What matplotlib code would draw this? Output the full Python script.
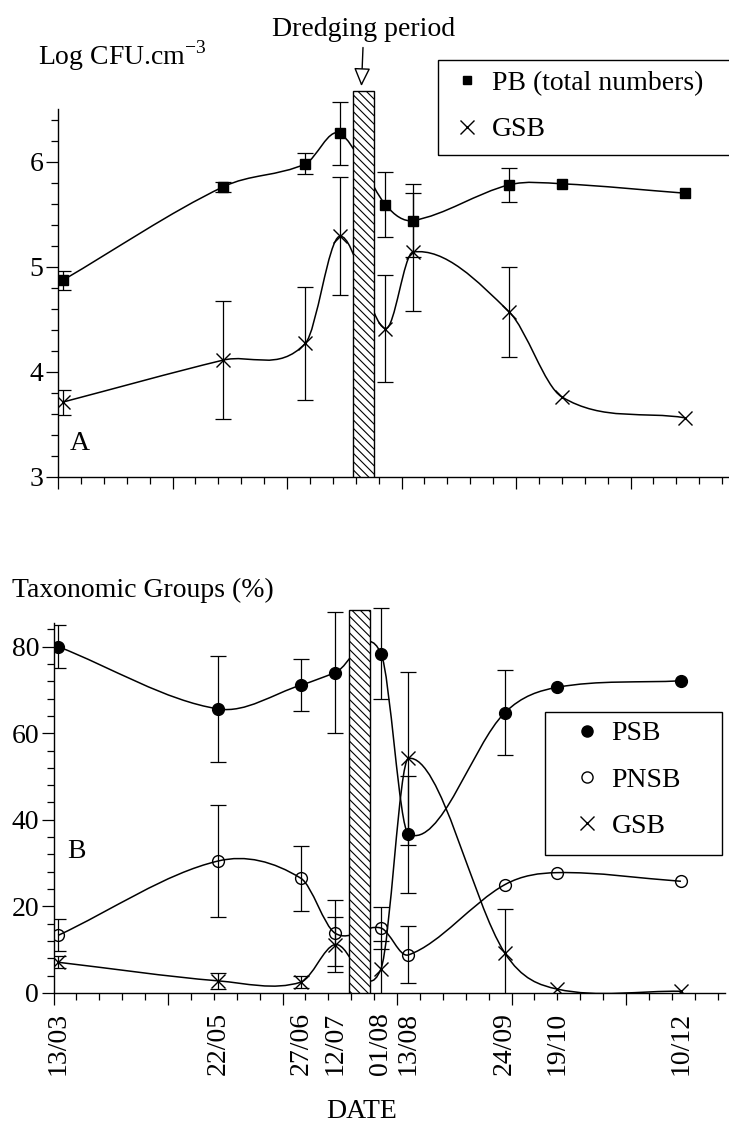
import numpy as np
import matplotlib
matplotlib.use('Agg')
from matplotlib import pyplot as plt
from matplotlib.path import Path
from matplotlib.patches import PathPatch, Rectangle
from matplotlib.lines import Line2D
from matplotlib.ticker import FixedLocator, NullFormatter

plt.rcParams['font.family'] = ['Liberation Serif', 'DejaVu Serif']
plt.rcParams['mathtext.fontset'] = 'custom'
plt.rcParams['mathtext.rm'] = 'Liberation Serif'
plt.rcParams['hatch.linewidth'] = 0.8

# sampling dates (day of year) and their labels
date_labels = ['13/03', '22/05', '27/06', '12/07', '01/08', '13/08', '24/09', '19/10', '10/12']
days = np.array([72, 142, 178, 193, 213, 225, 267, 290, 344])

# panel A : log CFU.cm-3
pb = np.array([4.87, 5.76, 5.98, 6.27, 5.59, 5.44, 5.78, 5.79, 5.70])
pb_err = np.array([0.09, 0.05, 0.10, 0.30, 0.31, 0.35, 0.16, 0, 0])
gsb_a = np.array([3.71, 4.11, 4.27, 5.29, 4.41, 5.14, 4.57, 3.76, 3.56])
gsb_a_err = np.array([0.12, 0.56, 0.54, 0.56, 0.51, 0.56, 0.43, 0, 0])

# panel B : taxonomic groups (%)
psb = np.array([80.0, 65.6, 71.1, 74.0, 78.4, 36.7, 64.7, 70.6, 72.1])
psb_err = np.array([5, 12.2, 6, 14, 10.5, 13.5, 9.8, 0, 0])
pnsb = np.array([13.3, 30.5, 26.5, 13.8, 15.0, 8.8, 25.0, 27.8, 25.8])
pnsb_err = np.array([3.7, 13.0, 7.5, 7.6, 4.9, 6.6, 0, 0, 0])
gsb_b = np.array([7.1, 2.8, 2.5, 11.2, 5.6, 54.2, 9.3, 0.9, 0.4])
gsb_b_err = np.array([1.4, 1.9, 1.4, 6.4, 6.5, 20, 10, 0, 0])

# dredging period (days) and bar heights
dredge = (199, 208)
dredge_top_a = 6.67
dredge_top_b = 88.5

W, H = 729, 1122
fig = plt.figure(figsize=(W / 100, H / 100), dpi=100)


def px_box(left, top, right, bottom):
    return [left / W, 1 - bottom / H, (right - left) / W, (bottom - top) / H]


def smooth(ax, x, y):
    # cardinal spline through the points, drawn as bezier path
    x = np.asarray(x, float)
    y = np.asarray(y, float)
    n = len(x)
    m = np.empty(n)
    m[1:-1] = (y[2:] - y[:-2]) / (x[2:] - x[:-2])
    m[0] = (y[1] - y[0]) / (x[1] - x[0])
    m[-1] = (y[-1] - y[-2]) / (x[-1] - x[-2])
    verts = [(x[0], y[0])]
    codes = [Path.MOVETO]
    for i in range(n - 1):
        h = (x[i + 1] - x[i]) / 3
        verts += [(x[i] + h, y[i] + m[i] * h), (x[i + 1] - h, y[i + 1] - m[i + 1] * h), (x[i + 1], y[i + 1])]
        codes += [Path.CURVE4] * 3
    ax.add_patch(PathPatch(Path(verts, codes), fill=False, lw=1.1, ec='black', zorder=2))


def errs(ax, x, y, e):
    k = e > 0
    ax.errorbar(x[k], y[k], yerr=e[k], fmt='none', ecolor='black', elinewidth=0.9,
                capsize=5.5, capthick=0.9, zorder=2)


def style(ax):
    for s in ['top', 'right']:
        ax.spines[s].set_visible(False)
    for s in ['left', 'bottom']:
        ax.spines[s].set_linewidth(1.0)
    ax.tick_params(which='major', direction='out', length=8.4, width=0.9, labelsize=20, pad=2)
    ax.tick_params(which='minor', direction='out', length=4.8, width=0.9)
    ax.xaxis.set_major_locator(FixedLocator(np.arange(70, 363, 50)))
    ax.xaxis.set_minor_locator(FixedLocator(np.arange(70, 363, 10)))
    ax.xaxis.set_major_formatter(NullFormatter())
    ax.set_xlim(70, 363)


# ---------------- panel A ----------------
ax1 = fig.add_axes(px_box(58, 83, 729, 476.7))
style(ax1)
ax1.set_ylim(3, 6.75)
ax1.yaxis.set_major_locator(FixedLocator([3, 4, 5, 6]))
ax1.yaxis.set_minor_locator(FixedLocator(np.arange(3, 6.45, 0.2)))
ax1.spines['left'].set_bounds(3, 6.5)

smooth(ax1, days, pb)
smooth(ax1, days, gsb_a)
errs(ax1, days, pb, pb_err)
errs(ax1, days, gsb_a, gsb_a_err)
ax1.plot(days, pb, 's', color='black', ms=7, zorder=3)
ax1.plot(days, gsb_a, 'x', color='black', ms=10, mew=1.0, zorder=3)
ax1.bar((dredge[0] + dredge[1]) / 2, dredge_top_a - 3, bottom=3, width=dredge[1] - dredge[0],
        facecolor='white', edgecolor='black', hatch='\\\\\\\\', lw=1.0, zorder=4)
mid = (dredge[0] + dredge[1]) / 2 - 1
ax1.annotate('Dredging period', xy=(mid, 6.72), xytext=(mid + 1, 7.26), ha='center', va='center',
             fontsize=20, annotation_clip=False,
             arrowprops=dict(arrowstyle='-|>,head_length=0.8,head_width=0.36', mutation_scale=14,
                             fc='white', ec='black', lw=1.0, shrinkA=2, shrinkB=0))
ax1.text(79.6, 3.32, 'A', fontsize=20, ha='center', va='center')

h_a = [Line2D([], [], marker='s', ls='none', color='black', ms=6),
       Line2D([], [], marker='x', ls='none', color='black', ms=10, mew=1.0)]
ax1.legend(h_a, ['PB (total numbers)', 'GSB'], loc='center left', bbox_to_anchor=(452.8 / W, 1 - 106.5 / H),
           bbox_transform=fig.transFigure, frameon=False, borderpad=0, borderaxespad=0,
           handlelength=1.0, handletextpad=0.4, labelspacing=0.75, fontsize=20)
fig.add_artist(Rectangle((438 / W, 1 - 155 / H), (740 - 438) / W, 95 / H, transform=fig.transFigure,
                         fill=False, lw=1.0, ec='black'))

# ---------------- panel B ----------------
ax2 = fig.add_axes(px_box(53.5, 603.3, 724.5, 993))
style(ax2)
ax2.set_ylim(0, 90)
ax2.yaxis.set_major_locator(FixedLocator([0, 20, 40, 60, 80]))
ax2.yaxis.set_minor_locator(FixedLocator(np.arange(0, 85, 4)))
ax2.spines['left'].set_bounds(0, 85.5)

smooth(ax2, days, psb)
smooth(ax2, days, pnsb)
smooth(ax2, days, gsb_b)
errs(ax2, days, psb, psb_err)
errs(ax2, days, pnsb, pnsb_err)
errs(ax2, days, gsb_b, gsb_b_err)
ax2.plot(days, psb, 'o', color='black', ms=8.5, zorder=3)
ax2.plot(days, pnsb, 'o', mfc='none', mec='black', ms=8.5, mew=1.0, zorder=3)
ax2.plot(days, gsb_b, 'x', color='black', ms=10, mew=1.0, zorder=3)
ax2.bar((dredge[0] + dredge[1]) / 2, dredge_top_b, width=dredge[1] - dredge[0],
        facecolor='white', edgecolor='black', hatch='\\\\\\\\', lw=1.0, zorder=4)
ax2.text(80, 32.6, 'B', fontsize=20, ha='center', va='center')

sec = ax2.secondary_xaxis('bottom')
sec.set_xticks(days, labels=date_labels)
sec.tick_params(length=0, pad=13.5, labelsize=20, labelrotation=90)
for s in sec.spines.values():
    s.set_visible(False)

h_b = [Line2D([], [], marker='o', ls='none', color='black', ms=8),
       Line2D([], [], marker='o', ls='none', mfc='none', mec='black', ms=8, mew=1.0),
       Line2D([], [], marker='x', ls='none', color='black', ms=10, mew=1.0)]
ax2.legend(h_b, ['PSB', 'PNSB', 'GSB'], loc='center left', bbox_to_anchor=(572.8 / W, 1 - 780 / H),
           bbox_transform=fig.transFigure, frameon=False, borderpad=0, borderaxespad=0,
           handlelength=1.0, handletextpad=0.4, labelspacing=0.75, fontsize=20)
fig.add_artist(Rectangle((545 / W, 1 - 855 / H), (721.7 - 545) / W, (855 - 711.7) / H,
                         transform=fig.transFigure, fill=False, lw=1.0, ec='black'))

# labels
fig.text(38 / W, 1 - 65 / H, r'Log CFU.cm$^{\mathrm{-3}}$', fontsize=20, va='baseline')
fig.text(12 / W, 1 - 597 / H, 'Taxonomic Groups (%)', fontsize=20, va='baseline')
fig.text(362 / W, 1 - 1118 / H, 'DATE', fontsize=20, ha='center', va='baseline')

plt.savefig('out.png', dpi=100)
